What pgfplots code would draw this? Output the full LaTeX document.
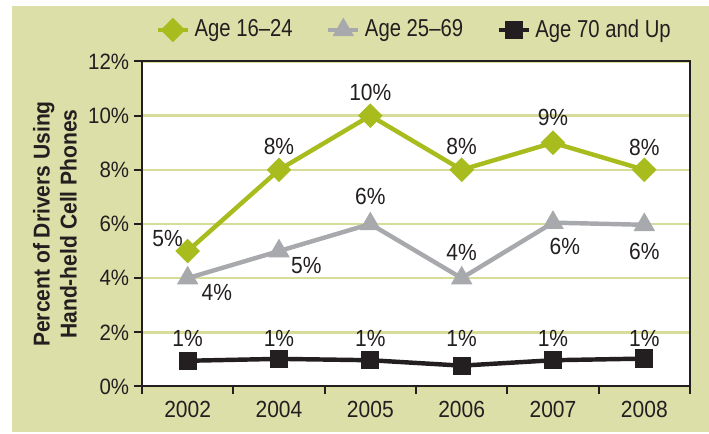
\documentclass[border=0pt]{standalone}
\usepackage{fontspec}
\setmainfont{Liberation Sans}[FakeStretch=0.9]
\newfontfamily\labfont{Liberation Sans}[FakeStretch=0.92]
\newfontfamily\legfont{Liberation Sans}[FakeStretch=0.83]
\newfontfamily\yfont{Liberation Sans}[FakeStretch=0.92]
\usepackage{pgfplots}
\pgfplotsset{compat=1.18}
\usepackage{pgfplotstable}
\definecolor{bg}{RGB}{220,224,168}
\definecolor{gridc}{RGB}{214,221,152}
\definecolor{lime}{RGB}{168,188,30}
\definecolor{grayl}{RGB}{167,169,172}
\definecolor{blk}{RGB}{35,31,32}

% series values
\pgfplotstableread{
x y
0 5
1 8
2 10
3 8
4 9
5 8
}\tyoung
\pgfplotstableread{
x y
0 4
1 5
2 6
3 4
4 6.05
5 5.97
}\tmid
\pgfplotstableread{
x y
0 0.95
1 1.02
2 0.97
3 0.77
4 0.97
5 1.03
}\told
% value labels: position of label centre and text
\pgfplotstableread{
x y lab
-0.22 5.48 5
1 8.85 8
2 10.85 10
3 8.85 8
4 9.92 9
5 8.81 8
0.32 3.48 4
1.30 4.48 5
2 7.0 6
3 4.96 4
4.13 5.16 6
5 4.97 6
0 1.77 1
1 1.77 1
2 1.77 1
3 1.77 1
4 1.77 1
5 1.77 1
}\tlabs

\begin{document}
\begin{tikzpicture}
\useasboundingbox (0,0) rectangle (319.05pt,195.3pt);
\fill[bg] (5.4pt,0.9pt) rectangle (319.05pt,192.6pt);
\begin{axis}[
  at={(63.9pt,21.375pt)}, anchor=south west,
  width=246.6pt, height=146.25pt, scale only axis,
  xmin=-0.5, xmax=5.5, ymin=0, ymax=12,
  xtick={0,...,5}, xticklabels={2002,2004,2005,2006,2007,2008},
  minor xtick={-0.5,0.5,...,5.5},
  ytick={0,2,...,12}, yticklabels={0\%,2\%,4\%,6\%,8\%,10\%,12\%},
  tick align=outside, major tick length=3.6pt, minor tick length=3.6pt,
  xtick pos=bottom, ytick pos=left,
  major x tick style={draw=none},
  minor x tick style={line width=0.9pt, blk},
  major y tick style={line width=0.9pt, blk},
  ymajorgrids, major y grid style={gridc, line width=1.1pt},
  axis line style={blk, line width=0.9pt},
  axis background/.style={fill=white},
  clip=false,
  yticklabel style={font=\yfont\fontsize{10}{11}\selectfont, text=blk, anchor=east, inner sep=0pt, xshift=-2pt},
  xticklabel style={font=\fontsize{10.5}{12}\selectfont, text=blk, anchor=north, inner sep=0pt, yshift=-3pt},
  ylabel={Percent of Drivers Using\\Hand-held Cell Phones},
  ylabel style={at={(axis description cs:-0.1588,0.5)}, anchor=center, align=center,
    font={\labfont\bfseries\fontsize{10.3}{12.2}\selectfont}, text=blk},
  legend style={at={(0.499,1.097)}, anchor=center, draw=none, fill=none,
    font=\legfont\fontsize{11}{12}\selectfont, text=blk,
    /tikz/every even column/.append style={column sep=13pt}},
  legend columns=3, legend cell align=left,
  legend image code/.code={\draw[mark repeat=2,mark phase=2,#1] plot coordinates {(0pt,0pt)(6.75pt,0pt)(13.5pt,0pt)};},
]
\addplot[lime, line width=2pt, mark=square*, mark size=2.9pt, mark options={rotate=45, solid}]
  table[x=x, y=y]{\tyoung};
\addlegendentry{Age 16–24}
\addplot[grayl, line width=2pt, mark=triangle*, mark size=3.6pt, mark options={solid}]
  table[x=x, y=y]{\tmid};
\addlegendentry{Age 25–69}
\addplot[blk, line width=2pt, mark=square*, mark size=3.1pt, mark options={solid}]
  table[x=x, y=y]{\told};
\addlegendentry{Age 70 and Up}
\addplot[draw=none, mark=none, forget plot, point meta=explicit symbolic,
  nodes near coords={\pgfplotspointmeta\%},
  every node near coord/.append style={anchor=center, font=\fontsize{10.5}{12}\selectfont, text=blk, inner sep=0pt}]
  table[x=x, y=y, meta=lab]{\tlabs};
\end{axis}
\end{tikzpicture}
\end{document}
